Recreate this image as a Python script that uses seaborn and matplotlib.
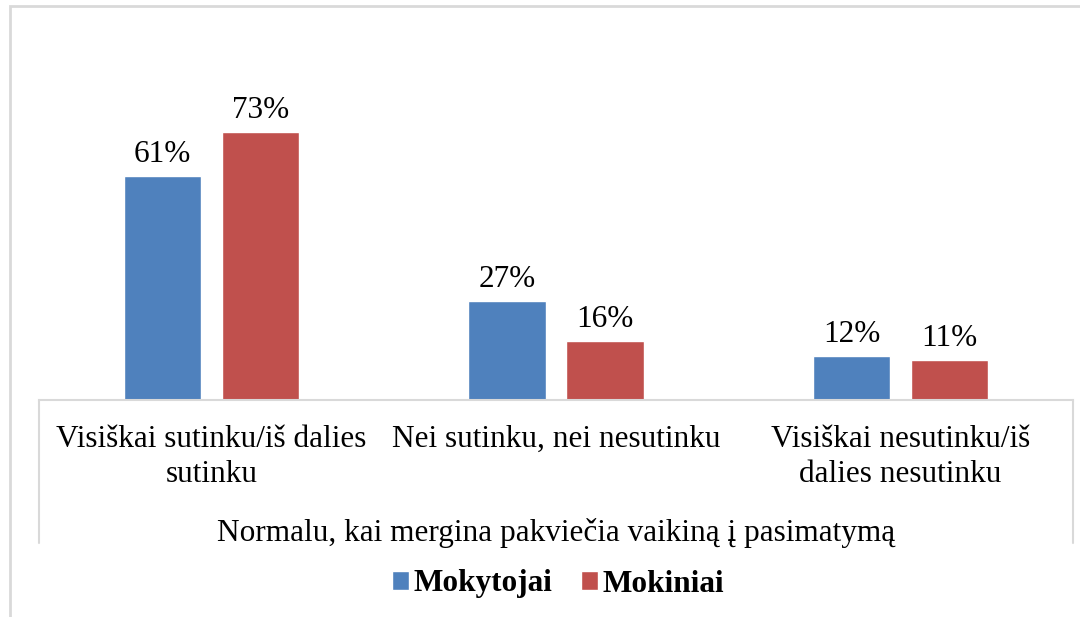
import matplotlib.pyplot as plt
import pandas as pd
import seaborn as sns
from matplotlib.patches import Rectangle

# Chart data
categories = [
    "Visiškai sutinku/iš dalies\nsutinku",
    "Nei sutinku, nei nesutinku",
    "Visiškai nesutinku/iš\ndalies nesutinku",
]
series_names = ["Mokytojai", "Mokiniai"]
mokytojai = [61, 27, 12]
mokiniai = [73, 16, 11]
axis_title = "Normalu, kai mergina pakviečia vaikiną į pasimatymą"
colors = ["#4F81BD", "#C0504D"]


def main():
    df = pd.DataFrame(
        {
            "category": categories * 2,
            "group": [series_names[0]] * 3 + [series_names[1]] * 3,
            "value": mokytojai + mokiniai,
        }
    )

    sns.set_style("white")
    plt.rcParams["font.family"] = ["Liberation Serif", "DejaVu Serif"]
    plt.rcParams["text.color"] = "black"
    plt.rcParams["xtick.color"] = "black"
    plt.rcParams["axes.labelcolor"] = "black"

    W, H = 1080, 617
    fig = plt.figure(figsize=(W / 100, H / 100), dpi=100)
    # plot area in pixels: x 39..1073, baseline at y=400
    ymax = 80
    px_per_unit = 3.67
    top_px = 400 - ymax * px_per_unit
    ax = fig.add_axes([39 / W, (H - 400) / H, (1073 - 39) / W, (400 - top_px) / H])

    sns.barplot(
        data=df,
        x="category",
        y="value",
        hue="group",
        palette=colors,
        width=0.5686,
        gap=0.214,
        saturation=1,
        ax=ax,
    )
    ax.set_ylim(0, ymax)
    ax.set_xlim(-0.5, 2.5)

    fs = 22.5
    for cont in ax.containers:
        ax.bar_label(cont, fmt="%d%%", padding=5, fontsize=fs, color="black")

    # Axis styling
    for side in ["top", "left", "right"]:
        ax.spines[side].set_visible(False)
    ax.spines["bottom"].set_color("#d9d9d9")
    ax.spines["bottom"].set_linewidth(1.5)
    ax.set_yticks([])
    ax.set_ylabel("")
    ax.tick_params(axis="x", length=0, pad=18, labelsize=fs)
    for lab in ax.get_xticklabels():
        lab.set_linespacing(1.25)
    ax.set_xlabel(axis_title, fontsize=fs, labelpad=21)

    # box lines extending down from the baseline (multi-level category axis)
    ax_h_px = 400 - top_px
    drop = -(543 - 400) / ax_h_px
    for xa in [0, 1]:
        ax.plot([xa, xa], [0, drop], transform=ax.transAxes, color="#d9d9d9",
                lw=1.5, clip_on=False)

    # Legend
    handles, labels = ax.get_legend_handles_labels()
    ax.legend_.remove()
    fig.legend(
        handles,
        labels,
        loc="center",
        bbox_to_anchor=(558 / W, 1 - 584 / H),
        ncol=2,
        frameon=False,
        prop={"weight": "bold", "size": fs},
        handlelength=0.55,
        handleheight=0.55,
        handletextpad=0.15,
        columnspacing=0.9,
    )

    # Outer chart border
    fig.add_artist(
        Rectangle((10 / W, -0.1), 1.2, 1.1 - 6 / H, transform=fig.transFigure,
                  fill=False, edgecolor="#d9d9d9", lw=2, clip_on=False)
    )

    fig.savefig("out.png", dpi=100)
    plt.close(fig)


if __name__ == "__main__":
    main()
